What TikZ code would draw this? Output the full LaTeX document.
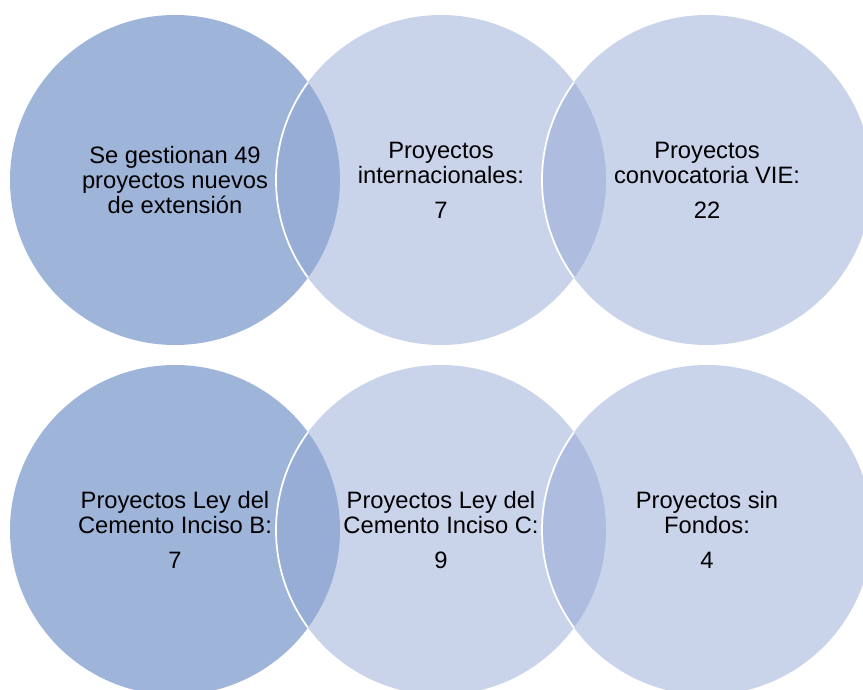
\documentclass[tikz,border=0pt]{standalone}
\usepackage{fontspec}
\setmainfont{Liberation Sans}
\usepackage{tikz}
\usetikzlibrary{positioning, calc}

\definecolor{venndark}{RGB}{159,180,217}
\definecolor{vennlight}{RGB}{147,167,213}

\begin{document}
\begin{tikzpicture}[
    venn/.style={circle, minimum size=6.6cm, inner sep=0pt, align=center, text=black, font=\fontsize{13.5}{14.3}\selectfont},
    firstset/.style={venn, fill=venndark},
    nextset/.style={venn, fill=vennlight, fill opacity=0.5, text opacity=1},
    seam/.style={draw=white, line width=1pt}
]
    % Frame
    \clip (0,0) rectangle (17.26,-13.8);
    \useasboundingbox (0,0) rectangle (17.26,-13.8);

    % Top row
    \node[firstset] (total) at (3.5,-3.6) {Se gestionan 49\\proyectos nuevos\\de extensión};
    \node[nextset] (inter) at (8.82,-3.6) {Proyectos\\internacionales:\\[0.2cm]7};
    \node[nextset] (vie) at (14.14,-3.6) {Proyectos\\convocatoria VIE:\\[0.2cm]22};

    % Bottom row
    \node[firstset] (leyb) at (3.5,-10.6) {Proyectos Ley del\\Cemento Inciso B:\\[0.2cm]7};
    \node[nextset] (leyc) at (8.82,-10.6) {Proyectos Ley del\\Cemento Inciso C:\\[0.2cm]9};
    \node[nextset] (sinf) at (14.14,-10.6) {Proyectos sin\\Fondos:\\[0.2cm]4};

    % Seams
    \foreach \a/\b in {total/inter, inter/vie, leyb/leyc, leyc/sinf} {
        \begin{scope}
            \clip (\a.center) circle[radius=3.3cm];
            \draw[seam] (\b.center) circle[radius=3.3cm];
        \end{scope}
    }
\end{tikzpicture}
\end{document}
